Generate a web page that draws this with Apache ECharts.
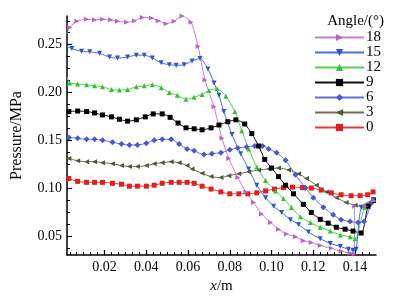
<!DOCTYPE html>
<html>
<head>
<meta charset="utf-8">
<script src="https://cdn.jsdelivr.net/npm/echarts@6/dist/echarts.min.js"></script>
<style>
  html, body { margin: 0; padding: 0; background: #fff; }
  #chart { width: 415px; height: 299px; }
</style>
</head>
<body>
<div id="chart"></div>
<script>
// Pressure along x for each angle, [x (m), pressure (MPa)]
const angle18 = [
    [0.0019, 0.261], [0.0033, 0.268], [0.0067, 0.2745], [0.0114, 0.2765], [0.0152, 0.276],
    [0.0190, 0.2765], [0.0229, 0.276], [0.0262, 0.2745], [0.0305, 0.2735], [0.0343, 0.275],
    [0.0381, 0.2785], [0.0424, 0.278], [0.0457, 0.275], [0.0495, 0.272], [0.0533, 0.2745],
    [0.0571, 0.2800], [0.0614, 0.2735], [0.0648, 0.248], [0.0681, 0.213], [0.0724, 0.185],
    [0.0762, 0.152], [0.0795, 0.131], [0.0838, 0.111], [0.0876, 0.096], [0.0914, 0.085],
    [0.0952, 0.073], [0.0995, 0.064], [0.1033, 0.057], [0.1071, 0.052], [0.1114, 0.049],
    [0.1152, 0.045], [0.1190, 0.043], [0.1233, 0.040], [0.1286, 0.037], [0.1333, 0.034],
    [0.1376, 0.032], [0.1395, 0.031], [0.1398, 0.081], [0.1448, 0.081], [0.1488, 0.087]
];
const angle15 = [
    [0.0019, 0.248], [0.0043, 0.246], [0.0090, 0.243], [0.0129, 0.2425], [0.0176, 0.241],
    [0.0224, 0.237], [0.0262, 0.236], [0.0310, 0.237], [0.0352, 0.239], [0.0390, 0.239],
    [0.0429, 0.236], [0.0471, 0.231], [0.0510, 0.229], [0.0543, 0.2285], [0.0581, 0.229],
    [0.0619, 0.233], [0.0657, 0.2355], [0.0695, 0.2245], [0.0724, 0.210], [0.0748, 0.197],
    [0.0771, 0.180], [0.0810, 0.156], [0.0852, 0.136], [0.0890, 0.120], [0.0929, 0.103],
    [0.0971, 0.090], [0.1010, 0.081], [0.1048, 0.0745], [0.1090, 0.067], [0.1129, 0.062],
    [0.1176, 0.054], [0.1233, 0.047], [0.1281, 0.042], [0.1329, 0.039], [0.1367, 0.036],
    [0.1390, 0.035], [0.1405, 0.036], [0.1430, 0.080], [0.1488, 0.088]
];
const angle12 = [
    [0.0019, 0.216], [0.0033, 0.210], [0.0071, 0.209], [0.0114, 0.208], [0.0152, 0.207],
    [0.0190, 0.206], [0.0233, 0.203], [0.0271, 0.2025], [0.0310, 0.203], [0.0352, 0.206],
    [0.0390, 0.207], [0.0429, 0.208], [0.0471, 0.205], [0.0510, 0.200], [0.0548, 0.197],
    [0.0590, 0.193], [0.0629, 0.195], [0.0667, 0.198], [0.0700, 0.202], [0.0738, 0.204],
    [0.0781, 0.196], [0.0824, 0.180], [0.0857, 0.160], [0.0890, 0.141], [0.0929, 0.122],
    [0.0971, 0.108], [0.1019, 0.097], [0.1057, 0.089], [0.1095, 0.0796], [0.1138, 0.070],
    [0.1186, 0.064], [0.1233, 0.059], [0.1281, 0.055], [0.1329, 0.051], [0.1376, 0.049],
    [0.1400, 0.047], [0.1445, 0.080], [0.1488, 0.088]
];
const angle9 = [
    [0.0029, 0.180], [0.0071, 0.1806], [0.0114, 0.180], [0.0152, 0.1786], [0.0190, 0.1765],
    [0.0233, 0.1745], [0.0271, 0.172], [0.0310, 0.170], [0.0352, 0.1714], [0.0395, 0.1745],
    [0.0433, 0.1776], [0.0476, 0.1776], [0.0514, 0.174], [0.0552, 0.168], [0.0590, 0.163],
    [0.0629, 0.162], [0.0667, 0.161], [0.0710, 0.163], [0.0748, 0.166], [0.0790, 0.1694],
    [0.0829, 0.1714], [0.0871, 0.167], [0.0905, 0.157], [0.0938, 0.144], [0.0967, 0.130],
    [0.1000, 0.121], [0.1033, 0.112], [0.1067, 0.103], [0.1105, 0.094], [0.1152, 0.083],
    [0.1190, 0.0745], [0.1233, 0.0673], [0.1271, 0.0633], [0.1310, 0.059], [0.1352, 0.057],
    [0.1390, 0.055], [0.1429, 0.053], [0.1462, 0.081], [0.1488, 0.087]
];
const angle6 = [
    [0.0029, 0.153], [0.0071, 0.152], [0.0114, 0.151], [0.0152, 0.151], [0.0190, 0.150],
    [0.0238, 0.148], [0.0281, 0.146], [0.0319, 0.145], [0.0357, 0.145], [0.0400, 0.147],
    [0.0438, 0.150], [0.0476, 0.151], [0.0519, 0.151], [0.0557, 0.146], [0.0595, 0.141],
    [0.0629, 0.139], [0.0676, 0.135], [0.0714, 0.136], [0.0757, 0.137], [0.0800, 0.140],
    [0.0838, 0.142], [0.0881, 0.143], [0.0919, 0.144], [0.0957, 0.144], [0.0986, 0.141],
    [0.1024, 0.137], [0.1067, 0.129], [0.1114, 0.114], [0.1162, 0.100], [0.1200, 0.090],
    [0.1248, 0.080], [0.1295, 0.072], [0.1333, 0.067], [0.1376, 0.065], [0.1414, 0.064],
    [0.1443, 0.065], [0.1476, 0.084]
];
const angle3 = [
    [0.0029, 0.131], [0.0071, 0.1286], [0.0114, 0.1276], [0.0152, 0.1276], [0.0190, 0.1265],
    [0.0238, 0.1255], [0.0281, 0.1235], [0.0319, 0.1225], [0.0357, 0.1225], [0.0400, 0.1235],
    [0.0438, 0.1255], [0.0476, 0.1265], [0.0519, 0.1276], [0.0557, 0.1265], [0.0595, 0.1235],
    [0.0619, 0.120], [0.0667, 0.1155], [0.0710, 0.112], [0.0757, 0.111], [0.0795, 0.113],
    [0.0843, 0.115], [0.0890, 0.117], [0.0938, 0.119], [0.0986, 0.120], [0.1033, 0.121],
    [0.1081, 0.119], [0.1129, 0.115], [0.1167, 0.110], [0.1214, 0.103], [0.1262, 0.096],
    [0.1310, 0.090], [0.1357, 0.085], [0.1400, 0.082], [0.1433, 0.081], [0.1462, 0.083],
    [0.1486, 0.087]
];
const angle0 = [
    [0.0029, 0.110], [0.0071, 0.107], [0.0114, 0.106], [0.0152, 0.106], [0.0190, 0.106],
    [0.0238, 0.105], [0.0281, 0.104], [0.0319, 0.102], [0.0357, 0.102], [0.0400, 0.102],
    [0.0438, 0.103], [0.0476, 0.105], [0.0519, 0.106], [0.0557, 0.106], [0.0595, 0.106],
    [0.0629, 0.105], [0.0667, 0.102], [0.0710, 0.099], [0.0757, 0.096], [0.0800, 0.094],
    [0.0843, 0.094], [0.0886, 0.094], [0.0929, 0.095], [0.0971, 0.097], [0.1014, 0.099],
    [0.1057, 0.1005], [0.1100, 0.101], [0.1148, 0.1005], [0.1190, 0.100], [0.1238, 0.098],
    [0.1286, 0.095], [0.1333, 0.093], [0.1381, 0.092], [0.1424, 0.092], [0.1460, 0.093],
    [0.1486, 0.096]
];

const legendNames = ['18', '15', '12', '9', '6', '3', '0'];
const xMajorTicks = [0.02, 0.04, 0.06, 0.08, 0.10, 0.12, 0.14];
const yMajorTicks = [0.05, 0.10, 0.15, 0.20, 0.25];

// minor ticks: x every 0.02/6, y every 0.0125
const xMinorTicks = [];
for (let k = 1; k <= 44; k++) {
    if (k % 6 !== 0) xMinorTicks.push(k * 0.02 / 6);
}
const yMinorTicks = [];
for (let k = 3; k <= 22; k++) {
    if (k % 4 !== 0) yMinorTicks.push(k * 0.0125);
}

const FONT = 'Liberation Serif';
const axisLineStyle = { color: '#000', width: 1.5 };

function makeSeries(name, data, color, lineColor, symbol, rotate, size) {
    return {
        name: name,
        type: 'line',
        data: data,
        smooth: 0.25,
        symbol: symbol,
        symbolRotate: rotate,
        symbolSize: size,
        itemStyle: { color: color },
        lineStyle: { color: lineColor, width: 1 },
        emphasis: { disabled: true }
    };
}

const chart = echarts.init(document.getElementById('chart'));
chart.setOption({
    animation: false,
    grid: { left: 67, top: 16, right: 39, bottom: 37 },
    legend: {
        data: legendNames,
        orient: 'vertical',
        left: 314,
        top: 30,
        padding: 0,
        itemWidth: 49,
        itemHeight: 9,
        itemGap: 0,
        textStyle: { fontFamily: FONT, fontSize: 15, color: '#000', lineHeight: 14, padding: [0, 0, 0, -3] }
    },
    graphic: [{
        type: 'text',
        right: 31,
        top: 14,
        style: { text: 'Angle/(°)', font: '15px "Liberation Serif"', fill: '#000' }
    }],
    xAxis: [{
        type: 'value',
        min: 0.002,
        max: 0.15,
        name: '{i|x}/m',
        nameLocation: 'middle',
        nameGap: 24,
        nameTextStyle: {
            fontFamily: FONT, fontSize: 15, color: '#000',
            rich: { i: { fontFamily: FONT, fontSize: 15, fontStyle: 'italic', color: '#000' } }
        },
        axisLine: { lineStyle: axisLineStyle },
        axisTick: { inside: true, length: 5, customValues: xMajorTicks, lineStyle: { color: '#000', width: 1.2 } },
        axisLabel: {
            customValues: xMajorTicks,
            formatter: v => v.toFixed(2),
            fontFamily: FONT, fontSize: 14, color: '#000', margin: 5
        },
        splitLine: { show: false }
    }, {
        type: 'value',
        min: 0.002,
        max: 0.15,
        position: 'bottom',
        axisLine: { show: false },
        axisTick: { inside: true, length: 3, customValues: xMinorTicks, lineStyle: { color: '#000', width: 1 } },
        axisLabel: { show: false },
        splitLine: { show: false }
    }],
    yAxis: [{
        type: 'value',
        min: 0.03,
        max: 0.28,
        name: 'Pressure/MPa',
        nameLocation: 'middle',
        nameGap: 42,
        nameTextStyle: { fontFamily: FONT, fontSize: 16, color: '#000' },
        axisLine: { show: true, lineStyle: axisLineStyle },
        axisTick: { inside: true, length: 5, customValues: yMajorTicks, lineStyle: { color: '#000', width: 1.2 } },
        axisLabel: {
            customValues: yMajorTicks,
            formatter: v => v.toFixed(2),
            fontFamily: FONT, fontSize: 14, color: '#000', margin: 5
        },
        splitLine: { show: false }
    }, {
        type: 'value',
        min: 0.03,
        max: 0.28,
        position: 'left',
        axisLine: { show: false },
        axisTick: { show: true, inside: true, length: 3, customValues: yMinorTicks, lineStyle: { color: '#000', width: 1 } },
        axisLabel: { show: false },
        splitLine: { show: false }
    }],
    series: [
        makeSeries('0', angle0, '#e02020', '#e23a3a', 'rect', 0, 5),
        makeSeries('3', angle3, '#4f5a35', '#6a6f50', 'triangle', 90, 5),
        makeSeries('6', angle6, '#4a58d0', '#6270d8', 'diamond', 0, 6),
        makeSeries('9', angle9, '#000000', '#111111', 'rect', 0, 5),
        makeSeries('12', angle12, '#33c133', '#55cc55', 'triangle', 0, 5),
        makeSeries('15', angle15, '#2f55cc', '#4a6fd8', 'triangle', 180, 5),
        makeSeries('18', angle18, '#b862c4', '#c47fcf', 'triangle', -90, 5)
    ]
});
</script>
</body>
</html>
